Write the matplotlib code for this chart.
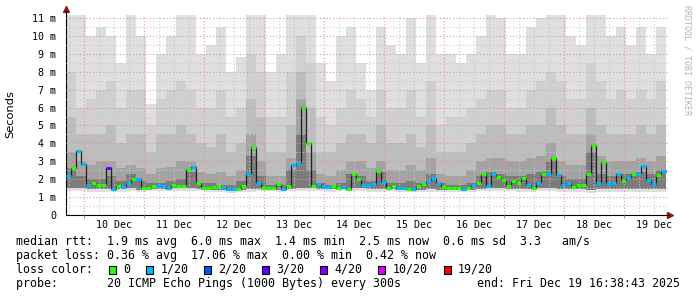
import numpy as np
import matplotlib
matplotlib.use("Agg")
import matplotlib.pyplot as plt
import matplotlib.dates as mdates
from matplotlib.patches import Rectangle
from datetime import datetime, timedelta

# median rtt (ms), one value every 2 hours from the start of the graph
median_ms = [2.2, 2.6, 3.6, 2.85, 1.65, 1.76, 1.7, 1.7, 2.6, 1.47,
             1.6, 1.56, 1.8, 2.0, 2.0, 1.52, 1.52, 1.6, 1.6, 1.6,
             1.52, 1.7, 1.6, 1.6, 2.55, 2.66, 1.8, 1.52, 1.52, 1.56,
             1.63, 1.56, 1.43, 1.43, 1.48, 1.6, 2.3, 3.8, 1.8, 1.5,
             1.5, 1.52, 1.75, 1.47, 1.6, 2.8, 2.9, 6.05, 4.0, 1.6,
             1.75, 1.54, 1.54, 1.6, 1.52, 1.54, 1.48, 2.27, 2.03, 1.69,
             1.69, 1.73, 2.44, 1.86, 1.52, 1.6, 1.52, 1.52, 1.43, 1.47,
             1.6, 1.73, 1.92, 2.05, 1.76, 1.54, 1.5, 1.5, 1.5, 1.47,
             1.5, 1.65, 1.8, 2.27, 1.6, 2.27, 2.13, 1.93, 1.6, 1.88,
             1.76, 2.04, 1.7, 1.52, 1.78, 2.27, 2.3, 3.2, 2.23, 1.67,
             1.8, 1.56, 1.7, 1.7, 2.28, 3.9, 1.8, 2.98, 1.75, 1.8,
             2.28, 1.92, 2.06, 2.28, 2.28, 2.75, 1.95, 1.75, 2.25, 2.47]

# lost pings out of 20 for each median value
loss_count = [1, 0, 1, 1, 1, 0, 0, 0, 3, 1,
              0, 1, 1, 0, 1, 0, 0, 0, 1, 1,
              1, 0, 0, 0, 0, 1, 0, 0, 0, 0,
              0, 1, 1, 1, 0, 0, 1, 0, 1, 0,
              0, 0, 0, 1, 0, 1, 1, 0, 0, 0,
              1, 1, 1, 0, 0, 1, 0, 0, 0, 1,
              1, 1, 0, 1, 0, 0, 1, 1, 0, 1,
              0, 0, 1, 1, 1, 0, 0, 0, 0, 1,
              0, 1, 0, 0, 1, 1, 0, 0, 0, 0,
              0, 0, 1, 0, 1, 0, 1, 0, 1, 1,
              1, 0, 0, 0, 0, 0, 1, 0, 1, 1,
              1, 0, 1, 0, 1, 1, 1, 1, 0, 1]

# smoke (ms), one value every 4 hours
smoke_max = [11.2, 11.2, 10.0, 10.5, 10.0, 8.5, 11.2, 10.0, 6.2, 9.0, 10.0, 11.2,
             11.2, 9.0, 9.5, 10.5, 8.0, 8.8, 11.2, 11.2, 8.0, 9.0, 11.2, 11.2,
             11.2, 8.5, 7.5, 10.0, 10.5, 8.5, 7.0, 10.5, 9.5, 9.0, 11.0, 8.5,
             11.2, 9.0, 9.0, 8.5, 9.0, 10.0, 11.2, 11.0, 9.0, 9.0, 10.5, 11.0,
             11.2, 11.2, 10.0, 9.5, 11.2, 11.2, 10.0, 10.5, 9.5, 10.5, 9.0, 10.5]
smoke_u4 = [8, 6, 6.5, 7, 7.5, 6, 7, 7, 5, 6.5, 7, 7.5,
            7, 6, 6, 7, 5.5, 6, 9, 8, 5.5, 5.5, 8, 10,
            8.5, 5.5, 5, 6, 7, 6.5, 5.5, 7, 6, 6, 7, 5.5,
            7.5, 5, 5.5, 5.5, 6, 6.5, 7, 7, 6, 6, 7, 7.5,
            8, 7.5, 6.5, 6.5, 8.5, 7.5, 6.5, 7, 6.5, 7, 6.5, 7.5]
smoke_u3 = [5.5, 4.5, 4.5, 4.5, 5, 4, 4.5, 4.5, 3.5, 4.5, 4.5, 5,
            4.5, 4, 3.8, 4.5, 3.5, 4, 6.5, 5.5, 3.5, 3.5, 5, 8,
            6, 3.5, 3.5, 4, 4.5, 4.5, 4, 5, 4, 4, 4.5, 3.8,
            5, 3.5, 3.5, 3.5, 4, 4.5, 5, 5, 4.5, 4.5, 5, 5,
            6, 5, 4.5, 4.5, 6, 5, 4.5, 4.5, 4.5, 5, 4.5, 5]
smoke_u2 = [3.5, 3, 2.8, 3, 3, 2.6, 2.8, 2.6, 2.3, 2.6, 2.7, 3,
            3, 2.4, 2.3, 2.4, 2.2, 2.5, 4.5, 3, 2.2, 2.2, 3.2, 6.5,
            3.5, 2.3, 2.2, 2.5, 3, 3, 2.6, 3, 2.5, 2.5, 2.8, 2.5,
            3.2, 2.3, 2.2, 2.2, 2.5, 3, 3.2, 3.2, 3, 3, 3.2, 3.3,
            4, 3, 2.8, 2.8, 4.5, 3.3, 3, 3, 3, 3.2, 3, 3.3]
smoke_u1 = [2.6, 2.2, 2, 2, 2.2, 1.9, 2.3, 1.9, 1.8, 1.8, 1.9, 2,
            2.4, 1.8, 1.8, 1.7, 1.7, 1.9, 3.3, 2.2, 1.7, 1.7, 2.5, 4.5,
            2.5, 1.8, 1.7, 1.8, 2.3, 2.2, 1.9, 2.4, 1.8, 1.8, 1.9, 1.8,
            2.3, 1.8, 1.7, 1.7, 1.8, 2.2, 2.4, 2.3, 2.2, 2.2, 2.3, 2.4,
            3, 2.2, 2, 2, 3.5, 2.3, 2.2, 2.3, 2.3, 2.4, 2.3, 2.5]
smoke_low = [1.35, 1.35, 1.3, 1.3, 1.3, 1.3, 1.35, 1.3, 1.35, 1.35, 1.35, 1.35,
             1.35, 1.35, 1.3, 1.3, 1.25, 1.3, 1.3, 1.35, 1.35, 1.3, 1.35, 1.35,
             1.35, 1.35, 1.3, 1.35, 1.35, 1.35, 1.3, 1.3, 1.35, 1.3, 1.3, 1.3,
             1.3, 1.3, 1.3, 1.3, 1.3, 1.35, 1.35, 1.35, 1.35, 1.3, 1.3, 1.35,
             1.35, 1.3, 1.3, 1.3, 1.25, 1.3, 1.3, 1.3, 1.3, 1.3, 1.3, 1.3]
smoke_low2 = [1.5, 1.5, 1.45, 1.45, 1.45, 1.45, 1.5, 1.4, 1.45, 1.45, 1.5, 1.5,
              1.5, 1.45, 1.4, 1.4, 1.35, 1.4, 1.45, 1.45, 1.45, 1.4, 1.45, 1.5,
              1.5, 1.45, 1.45, 1.45, 1.5, 1.5, 1.45, 1.45, 1.45, 1.4, 1.4, 1.4,
              1.45, 1.4, 1.4, 1.4, 1.4, 1.45, 1.5, 1.5, 1.45, 1.45, 1.45, 1.5,
              1.5, 1.45, 1.45, 1.45, 1.4, 1.45, 1.45, 1.45, 1.45, 1.45, 1.45, 1.45]

loss_labels = ['0', '1/20', '2/20', '3/20', '4/20', '10/20', '19/20']
loss_steps = [0, 1, 2, 3, 4, 10, 19]
loss_colors = ['#26ff00', '#00b8ff', '#0059ff', '#5e00ff', '#7e00ff', '#dd00ff', '#ff0000']

start = datetime(2025, 12, 9, 16, 38, 43)
end = datetime(2025, 12, 19, 16, 38, 43)

W, H = 697, 297
fig = plt.figure(figsize=(W / 100, H / 100), dpi=100)
fig.patch.set_facecolor('white')
ax = fig.add_axes([66 / W, 82 / H, 602 / W, 200.5 / H])

# time axes for the two resolutions
t_med = mdates.date2num([start + timedelta(hours=2 * i) for i in range(len(median_ms) + 1)])
t_smoke = mdates.date2num([start + timedelta(hours=4 * j) for j in range(len(smoke_max) + 1)])

def ext(a):
    return np.append(a, a[-1])

# smoke, lightest outside -> darkest near the median
ax.fill_between(t_smoke, ext(smoke_low), ext(smoke_max), step='post', color='#dfdfdf', lw=0, zorder=1)
ax.fill_between(t_smoke, ext(smoke_low2), ext(smoke_u4), step='post', color='#d0d0d0', lw=0, zorder=1)
ax.fill_between(t_smoke, ext(smoke_low2), ext(smoke_u3), step='post', color='#bdbdbd', lw=0, zorder=1)
ax.fill_between(t_smoke, ext(smoke_low2), ext(smoke_u2), step='post', color='#a3a3a3', lw=0, zorder=1)
ax.fill_between(t_smoke, ext(smoke_low2), ext(smoke_u1), step='post', color='#7c7c7c', lw=0, zorder=1)

# median line, coloured by packet loss
ax.step(t_med, ext(median_ms), where='post', color='#202020', lw=0.9, zorder=4)
seg_colors = [loss_colors[loss_steps.index(n)] for n in loss_count]
ax.hlines(median_ms, t_med[:-1], t_med[1:], colors=seg_colors, lw=2.2, zorder=5)

ax.set_xlim(mdates.date2num(start), mdates.date2num(end + timedelta(minutes=48)))
ax.set_ylim(0, 11.2)

# grid
ax.set_axisbelow(False)
ax.yaxis.set_major_locator(matplotlib.ticker.MultipleLocator(1))
ax.yaxis.set_minor_locator(matplotlib.ticker.MultipleLocator(0.5))
ax.yaxis.set_major_formatter(matplotlib.ticker.FuncFormatter(
    lambda v, p: '0' if v == 0 else f'{int(round(v))} m'))
ax.xaxis.set_major_locator(mdates.DayLocator())
ax.xaxis.set_major_formatter(matplotlib.ticker.NullFormatter())
ax.xaxis.set_minor_locator(mdates.HourLocator(byhour=[6, 12, 18]))
ax.xaxis.set_minor_formatter(matplotlib.ticker.FuncFormatter(
    lambda v, p: mdates.num2date(v).strftime('%d Dec') if mdates.num2date(v).hour == 12 else ''))

dots = (0, (1, 2))
ax.grid(True, which='major', color='#f09090', lw=0.8, linestyle=dots)
ax.grid(True, which='minor', color='#c8c8c8', lw=0.8, linestyle=dots)

mono = 'DejaVu Sans Mono'
ax.tick_params(axis='y', which='both', length=0, pad=7, labelsize=7.2, labelfontfamily=mono)
ax.tick_params(axis='x', which='major', length=2, color='#999999')
ax.tick_params(axis='x', which='minor', length=0, pad=3.5, labelsize=7.2, labelfontfamily=mono)

for s in ['top', 'right']:
    ax.spines[s].set_visible(False)
ax.spines['left'].set_color('black')
ax.spines['bottom'].set_color('black')
ax.spines['left'].set_bounds(0, 11.4)

ax.plot([1.004], [0], marker='>', color='#8b1a1a', ms=4, transform=ax.transAxes, clip_on=False)
ax.plot([0], [1.025], marker='^', color='#8b1a1a', ms=4, transform=ax.transAxes, clip_on=False)

fig.text(10 / W, 1 - 114 / H, 'Seconds', rotation=90, ha='center', va='center',
         fontsize=8.2, family='DejaVu Sans')
fig.text(687 / W, 1 - 5 / H, 'RRDTOOL / TOBI OETIKER', rotation=270, ha='center', va='top',
         fontsize=6, family=mono, color='#b4b4b4')

# legend
fs = 8.4
def row_y(y):
    return 1 - y / H

fig.text(16 / W, row_y(241.7), 'median rtt:  1.9 ms avg  6.0 ms max  1.4 ms min  2.5 ms now  0.6 ms sd  3.3   am/s',
         family=mono, fontsize=fs, va='center')
fig.text(16 / W, row_y(255.3), 'packet loss: 0.36 % avg  17.06 % max  0.00 % min  0.42 % now',
         family=mono, fontsize=fs, va='center')
fig.text(16 / W, row_y(269.3), 'loss color:', family=mono, fontsize=fs, va='center')
box_x = [108.7, 146.2, 204.0, 262.2, 320.0, 377.8, 443.6]
for bx, lab, col in zip(box_x, loss_labels, loss_colors):
    fig.patches.append(Rectangle((bx / W, 1 - 273.5 / H), 7 / W, 8 / H, facecolor=col,
                                 edgecolor='black', lw=0.8, transform=fig.transFigure, figure=fig))
    fig.text((bx + 14.5) / W, row_y(269.3), lab, family=mono, fontsize=fs, va='center')
fig.text(16 / W, row_y(283.3), 'probe:       20 ICMP Echo Pings (1000 Bytes) every 300s',
         family=mono, fontsize=fs, va='center')
fig.text(680 / W, row_y(283.3), 'end: Fri Dec 19 16:38:43 2025',
         family=mono, fontsize=fs, va='center', ha='right')

fig.savefig('out.png', dpi=100)
